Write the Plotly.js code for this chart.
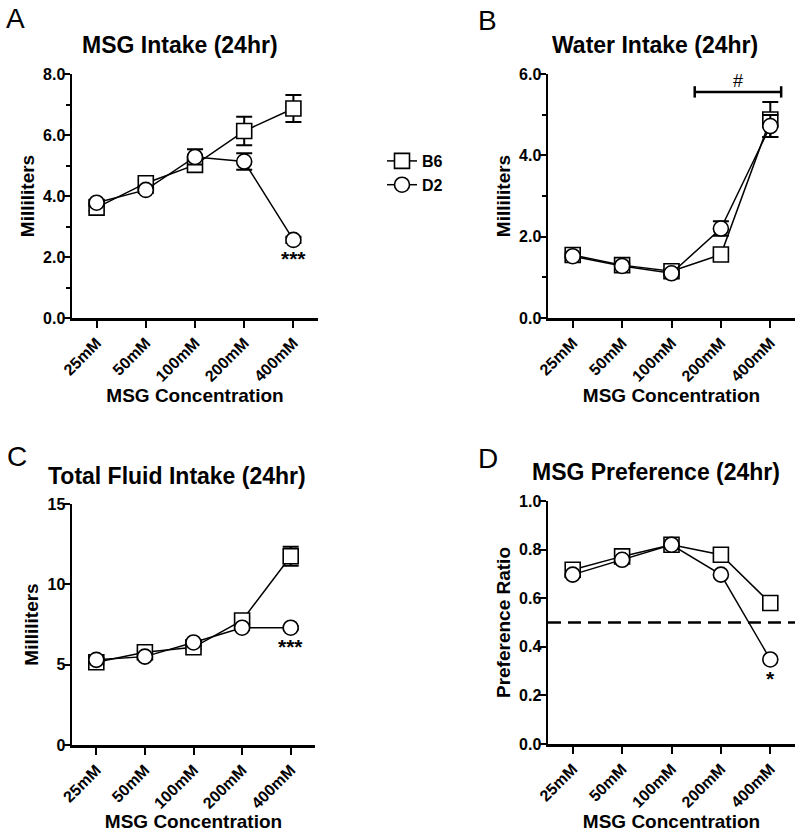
<!DOCTYPE html>
<html>
<head>
<meta charset="utf-8">
<script src="https://cdn.plot.ly/plotly-3.0.1.min.js"></script>
<style>html,body{margin:0;padding:0;background:#fff;}#chart{width:800px;height:832px;}</style>
</head>
<body>
<div id="chart"></div>
<script>
// ---- data ----
const concentrations = ['25mM', '50mM', '100mM', '200mM', '400mM'];
const strainNames = ['B6', 'D2'];

const msgIntakeB6 = [3.62, 4.42, 5.02, 6.13, 6.87];
const msgIntakeB6Err = [0.1, 0.1, 0.2, 0.47, 0.44];
const msgIntakeD2 = [3.78, 4.2, 5.28, 5.13, 2.56];
const msgIntakeD2Err = [0.1, 0.1, 0.25, 0.27, 0.1];

const waterIntakeB6 = [1.55, 1.3, 1.15, 1.56, 4.88];
const waterIntakeB6Err = [0.05, 0.05, 0.05, 0.05, 0.43];
const waterIntakeD2 = [1.52, 1.28, 1.1, 2.2, 4.72];
const waterIntakeD2Err = [0.05, 0.05, 0.05, 0.18, 0.27];

const totalIntakeB6 = [5.15, 5.77, 6.08, 7.75, 11.75];
const totalIntakeB6Err = [0.1, 0.1, 0.1, 0.2, 0.59];
const totalIntakeD2 = [5.3, 5.5, 6.38, 7.3, 7.3];
const totalIntakeD2Err = [0.1, 0.1, 0.1, 0.15, 0.1];

const prefB6 = [0.717, 0.772, 0.82, 0.779, 0.58];
const prefD2 = [0.697, 0.758, 0.82, 0.697, 0.348];
const prefChance = 0.5;

const panelTitles = ['MSG Intake (24hr)', 'Water Intake (24hr)', 'Total Fluid Intake (24hr)', 'MSG Preference (24hr)'];
const panelLetters = ['A', 'B', 'C', 'D'];
const yTitles = ['Milliliters', 'Milliliters', 'Milliliters', 'Preference Ratio'];
const xTitle = 'MSG Concentration';

// significance marks
const sigA = {x: 4, y: 1.95, text: '***'};
const sigC = {x: 4, y: 6.1, text: '***'};
const sigD = {x: 4, y: 0.27, text: '*'};
const bracketB = {x0: 2.47, x1: 4.22, y: 5.56, tick: 0.14, label: '#', labelY: 5.82};

// ---- styling ----
const FONT = 'Liberation Sans, Arial, Helvetica, sans-serif';
const BLACK = '#000';

function series(x, y, err, sym, size, axX, axY, name, showLegend) {
  const t = {
    x: x, y: y, type: 'scatter', mode: 'lines+markers', name: name,
    xaxis: axX, yaxis: axY, showlegend: showLegend, legendgroup: name,
    line: {color: BLACK, width: 1.5},
    marker: {symbol: sym, size: size, color: '#fff', line: {color: BLACK, width: 1.6}},
    cliponaxis: false
  };
  if (err) {
    t.error_y = {type: 'data', array: err, visible: true, color: BLACK, thickness: 2, width: 8};
  }
  return t;
}

const data = [
  series(concentrations, msgIntakeB6, msgIntakeB6Err, 'square', 15, 'x', 'y', strainNames[0], true),
  series(concentrations, msgIntakeD2, msgIntakeD2Err, 'circle', 15, 'x', 'y', strainNames[1], true),
  series(concentrations, waterIntakeB6, waterIntakeB6Err, 'square', 15, 'x2', 'y2', strainNames[0], false),
  series(concentrations, waterIntakeD2, waterIntakeD2Err, 'circle', 15, 'x2', 'y2', strainNames[1], false),
  series(concentrations, totalIntakeB6, totalIntakeB6Err, 'square', 15, 'x3', 'y3', strainNames[0], false),
  series(concentrations, totalIntakeD2, totalIntakeD2Err, 'circle', 15, 'x3', 'y3', strainNames[1], false),
  series(concentrations, prefB6, null, 'square', 15, 'x4', 'y4', strainNames[0], false),
  series(concentrations, prefD2, null, 'circle', 15, 'x4', 'y4', strainNames[1], false)
];

function xAxis(domain, anchor) {
  return {
    domain: domain, anchor: anchor, type: 'category', range: [-0.5, 4.5],
    showline: true, linewidth: 2.5, linecolor: BLACK, mirror: false,
    ticks: 'outside', ticklen: 7, tickwidth: 2, tickcolor: BLACK,
    tickangle: -45, tickfont: {family: FONT, size: 16, color: BLACK, weight: 'bold'},
    showgrid: false, zeroline: false, automargin: false, fixedrange: true,
    title: {text: xTitle, font: {family: FONT, size: 19, color: BLACK, weight: 'bold'}, standoff: 4}
  };
}
function yAxis(domain, anchor, range, dtick, fmt, title, minor) {
  const a = {
    domain: domain, anchor: anchor, range: range, dtick: dtick, tick0: 0, tickformat: fmt,
    showline: true, linewidth: 2.5, linecolor: BLACK,
    ticks: 'outside', ticklen: 7, tickwidth: 2, tickcolor: BLACK,
    tickfont: {family: FONT, size: 16, color: BLACK, weight: 'bold'},
    ticklabelstandoff: -6,
    showgrid: false, zeroline: false, automargin: false, fixedrange: true,
    title: {text: title, font: {family: FONT, size: 19, color: BLACK, weight: 'bold'}, standoff: 4}
  };
  if (minor) a.minor = {dtick: minor, ticks: 'outside', ticklen: 4, tickwidth: 2, tickcolor: BLACK, showgrid: false};
  return a;
}

const W = 800, H = 832;
const px = v => v / W;
const py = v => 1 - v / H;

const layout = {
  width: W, height: H, autosize: false,
  margin: {l: 0, r: 0, t: 0, b: 0},
  paper_bgcolor: '#fff', plot_bgcolor: '#fff',
  font: {family: FONT, color: BLACK},
  xaxis: xAxis([px(72), px(318)], 'y'),
  yaxis: yAxis([py(318), py(74)], 'x', [0, 8], 2, '.1f', yTitles[0], 1),
  xaxis2: xAxis([px(548), px(795)], 'y2'),
  yaxis2: yAxis([py(318), py(74)], 'x2', [0, 6], 2, '.1f', yTitles[1], 1),
  xaxis3: xAxis([px(72), px(315)], 'y3'),
  yaxis3: yAxis([py(745), py(504)], 'x3', [0, 15], 5, 'd', yTitles[2], null),
  xaxis4: xAxis([px(548), px(795)], 'y4'),
  yaxis4: yAxis([py(744), py(501)], 'x4', [0, 1], 0.2, '.1f', yTitles[3], null),
  showlegend: true,
  legend: {
    x: px(382), y: py(144), xanchor: 'left', yanchor: 'top',
    font: {family: FONT, size: 16, color: BLACK, weight: 'bold'},
    bgcolor: 'rgba(0,0,0,0)', itemwidth: 30, tracegroupgap: 0, itemclick: false, itemdoubleclick: false
  },
  shapes: [
    {type: 'line', xref: 'x4 domain', yref: 'y4', x0: 0, x1: 1, y0: prefChance, y1: prefChance,
     line: {color: BLACK, width: 2.5, dash: '13px,7px'}, layer: 'below'},
    {type: 'line', xref: 'x2', yref: 'y2', x0: bracketB.x0, x1: bracketB.x1, y0: bracketB.y, y1: bracketB.y,
     line: {color: BLACK, width: 2.5}},
    {type: 'line', xref: 'x2', yref: 'y2', x0: bracketB.x0, x1: bracketB.x0, y0: bracketB.y - bracketB.tick, y1: bracketB.y + bracketB.tick,
     line: {color: BLACK, width: 2.5}},
    {type: 'line', xref: 'x2', yref: 'y2', x0: bracketB.x1, x1: bracketB.x1, y0: bracketB.y - bracketB.tick, y1: bracketB.y + bracketB.tick,
     line: {color: BLACK, width: 2.5}}
  ],
  annotations: []
};

// panel titles and letters
const titlePos = [[180, 45], [655, 45], [177, 476], [656, 472]];
const letterPos = [[15, 18], [487, 20], [17, 456], [488, 458]];
for (let i = 0; i < 4; i++) {
  layout.annotations.push({
    text: panelTitles[i], xref: 'paper', yref: 'paper', x: px(titlePos[i][0]), y: py(titlePos[i][1]),
    xanchor: 'center', yanchor: 'middle', showarrow: false,
    font: {family: FONT, size: 23, color: BLACK, weight: 'bold'}
  });
  layout.annotations.push({
    text: panelLetters[i], xref: 'paper', yref: 'paper', x: px(letterPos[i][0]), y: py(letterPos[i][1]),
    xanchor: 'center', yanchor: 'middle', showarrow: false,
    font: {family: FONT, size: 28, color: BLACK}
  });
}
// significance
[[sigA, 'x', 'y'], [sigC, 'x3', 'y3'], [sigD, 'x4', 'y4']].forEach(([s, xr, yr]) => {
  layout.annotations.push({
    text: s.text, xref: xr, yref: yr, x: s.x, y: s.y, xanchor: 'center', yanchor: 'middle',
    showarrow: false, font: {family: FONT, size: 21, color: BLACK, weight: 'bold'}
  });
});
layout.annotations.push({
  text: bracketB.label, xref: 'x2', yref: 'y2', x: (bracketB.x0 + bracketB.x1) / 2, y: bracketB.labelY,
  xanchor: 'center', yanchor: 'middle', showarrow: false, font: {family: FONT, size: 18, color: BLACK}
});

Plotly.newPlot('chart', data, layout, {staticPlot: true, displayModeBar: false});
</script>
</body>
</html>
